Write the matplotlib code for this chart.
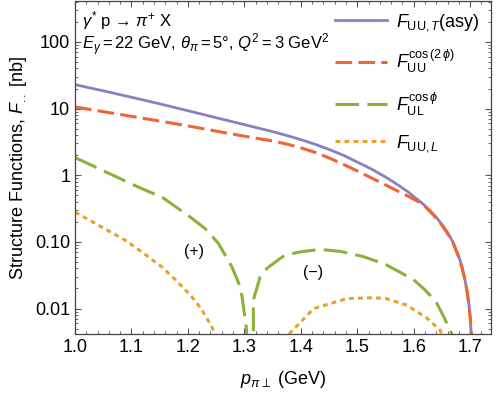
import matplotlib
matplotlib.use("Agg")
import matplotlib.pyplot as plt
import numpy as np
from matplotlib.ticker import MultipleLocator, LogLocator, NullFormatter

plt.rcParams['font.family'] = ['Liberation Sans', 'DejaVu Sans']
plt.rcParams['mathtext.fontset'] = 'custom'
plt.rcParams['mathtext.rm'] = 'Liberation Sans'
plt.rcParams['mathtext.it'] = 'Liberation Sans:italic'
plt.rcParams['mathtext.bf'] = 'Liberation Sans:bold'
plt.rcParams['lines.scale_dashes'] = False

# F_UU,T (asy)
x_uut = [1.0, 1.05, 1.1, 1.15, 1.2, 1.25, 1.3, 1.35, 1.375, 1.4, 1.425, 1.45, 1.475, 1.5,
         1.525, 1.55, 1.57, 1.59, 1.61, 1.62, 1.63, 1.64, 1.65, 1.66, 1.67, 1.68, 1.685,
         1.69, 1.695, 1.698, 1.7, 1.702, 1.704]
f_uut = [22.9, 18.5, 14.8, 11.8, 9.3, 7.3, 5.75, 4.52, 3.95, 3.43, 2.92, 2.44, 2.0, 1.58,
         1.24, 0.94, 0.736, 0.561, 0.412, 0.348, 0.288, 0.233, 0.183, 0.138, 0.0975, 0.060,
         0.0437, 0.0295, 0.0174, 0.0112, 0.0076, 0.0042, 0.00126]

# F_UU^cos(2phi)
x_uu2 = [1.0, 1.05, 1.1, 1.15, 1.2, 1.25, 1.3, 1.35, 1.375, 1.4, 1.425, 1.45, 1.475, 1.5,
         1.525, 1.55, 1.57, 1.59, 1.61, 1.62, 1.63, 1.64, 1.65, 1.66, 1.67, 1.68, 1.685,
         1.69, 1.695, 1.698, 1.7, 1.702, 1.704]
f_uu2 = [10.6, 9.0, 7.65, 6.5, 5.5, 4.6, 3.85, 3.27, 2.94, 2.58, 2.21, 1.82, 1.46, 1.16,
         0.912, 0.716, 0.589, 0.484, 0.394, 0.339, 0.280, 0.227, 0.178, 0.134, 0.095, 0.058,
         0.0425, 0.0287, 0.017, 0.0109, 0.0074, 0.0041, 0.0012]

# |F_UL^cos(phi)|
x_ul = [1.0, 1.05, 1.1, 1.124, 1.154, 1.2, 1.23, 1.254, 1.278, 1.29, 1.296, 1.304, 1.307,
        1.316, 1.328, 1.34, 1.363, 1.372, 1.4, 1.434, 1.47, 1.511, 1.55, 1.6, 1.62, 1.63,
        1.641, 1.655, 1.668, 1.672]
f_ul = [1.84, 1.17, 0.74, 0.6, 0.47, 0.25, 0.16, 0.095, 0.042, 0.024, 0.015, 0.0048, 0.0,
        0.0135, 0.030, 0.040, 0.056, 0.063, 0.071, 0.077, 0.072, 0.060, 0.046, 0.027, 0.019,
        0.0155, 0.012, 0.007, 0.0041, 0.0025]

# |F_UU,L|
x_uul = [1.0, 1.05, 1.089, 1.12, 1.154, 1.18, 1.207, 1.225, 1.242, 1.248, 1.262, 1.31,
         1.36, 1.381, 1.423, 1.482, 1.526, 1.55, 1.588, 1.624, 1.647, 1.66]
f_uul = [0.28, 0.162, 0.106, 0.069, 0.042, 0.026, 0.015, 0.0095, 0.0054, 0.0041, 0.002, 0.0,
         0.0018, 0.0043, 0.010, 0.0141, 0.0145, 0.0142, 0.0112, 0.0071, 0.0047, 0.0025]

labels = [r"$F_{\mathrm{UU},T}$(asy)",
          r"$F_{\mathrm{UU}}^{\mathrm{cos}\,(2\,\phi)}$",
          r"$F_{\mathrm{UL}}^{\mathrm{cos}\,\phi}$",
          r"$F_{\mathrm{UU},L}$"]
colors = ['#8b7fc0', '#ee6636', '#8ab23a', '#e8a22c']

fig = plt.figure(figsize=(4.98, 3.94), dpi=100)
ax = fig.add_axes([0.1506, 0.1515, 0.8354, 0.8465])

ax.plot(x_uut, f_uut, color=colors[0], lw=2.0, label=labels[0])
ax.plot(x_uu2, f_uu2, color=colors[1], lw=2.2, dashes=(12, 4.5), label=labels[1])
ax.plot(x_ul, f_ul, color=colors[2], lw=2.2, dashes=(17, 6), label=labels[2])
ax.plot(x_uul, f_uul, color=colors[3], lw=2.2, dashes=(3.5, 3), label=labels[3])

ax.set_yscale('log')
ax.set_xlim(1.0, 1.737)
ax.set_ylim(0.0041, 415)

ax.set_xticks([1.0, 1.1, 1.2, 1.3, 1.4, 1.5, 1.6, 1.7])
ax.set_xticklabels(["1.0", "1.1", "1.2", "1.3", "1.4", "1.5", "1.6", "1.7"])
ax.xaxis.set_minor_locator(MultipleLocator(0.02))
ax.set_yticks([0.01, 0.1, 1, 10, 100])
ax.set_yticklabels(["0.01", "0.10", "1", "10", "100"])
ax.yaxis.set_minor_locator(LogLocator(base=10, subs=np.arange(2, 10)))
ax.yaxis.set_minor_formatter(NullFormatter())

ax.tick_params(which='both', direction='in', top=True, right=True, colors='#555555',
               labelcolor='black', labelsize=13)
ax.tick_params(which='major', length=4.5, width=0.8)
ax.tick_params(which='minor', length=2.5, width=0.6)
for s in ax.spines.values():
    s.set_color('#444444')
    s.set_linewidth(0.9)

ax.set_xlabel(r"$p_{\pi\perp}$ (GeV)", fontsize=13, labelpad=9)
ax.set_ylabel(r"Structure Functions, $F_{..}$ [nb]", fontsize=13, labelpad=4)

ax.text(0.017, 0.942, "$\\gamma^{*}$ p \u2192 $\\pi^{+}$ X", transform=ax.transAxes,
        fontsize=12, va='center', ha='left')
ax.text(0.017, 0.867, r"$E_{\gamma} = 22$ GeV, $\theta_{\pi} = 5°$, $Q^{2} = 3$ GeV$^{2}$",
        transform=ax.transAxes, fontsize=12, va='center', ha='left')

ax.text(1.211, 0.072, "(+)", fontsize=11.5, ha='center', va='center')
ax.text(1.422, 0.035, "(\u2212)", fontsize=11.5, ha='center', va='center')

ax.legend(loc='upper right', frameon=False, fontsize=13, handlelength=2.9,
          handletextpad=0.5, labelspacing=0.85, borderaxespad=0.2)

fig.savefig("out.png", dpi=100)
